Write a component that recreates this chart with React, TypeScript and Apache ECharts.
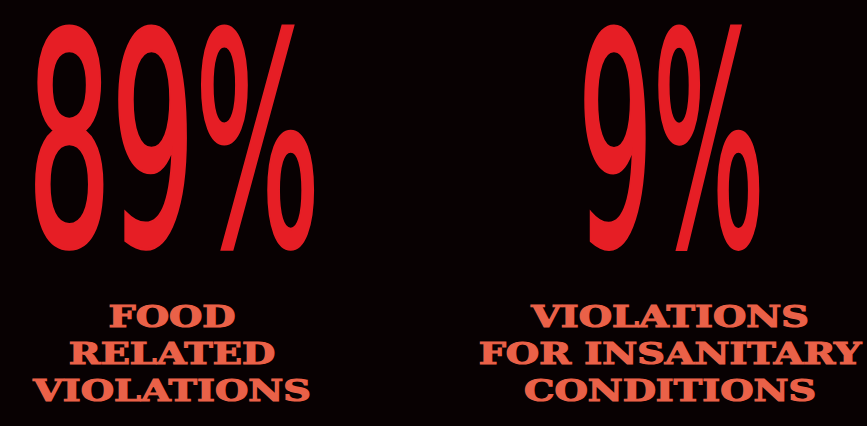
import React, { useEffect, useRef } from "react";
import * as echarts from "echarts";

const values = [89, 9];
const labelLines = [
  ["FOOD", "RELATED", "VIOLATIONS"],
  ["VIOLATIONS", "FOR INSANITARY", "CONDITIONS"],
];

const BG = "#080102";
const RED = "#e61e25";
const LABEL = "#ea6148";
const BIG_SIZE = 300;
const BIG_STROKE = 5;
const BIG_FONT = `normal ${BIG_SIZE}px 'Liberation Sans Narrow', 'DejaVu Sans Condensed', 'DejaVu Sans', sans-serif`;
const LABEL_SIZE = 30;
const LABEL_FONT = `bold ${LABEL_SIZE}px 'DejaVu Serif', serif`;

// ink boxes of the big numbers [left, right, top, bottom]
const bigBoxes = [
  [33, 315, 22, 251],
  [583, 760, 22, 251],
];
const labelCenters = [172, 670];
const labelTops = [305, 342, 379];
const labelCap = 22;
const labelRefWidth = 277;

function measure(text: string, font: string, pad = 0) {
  const ctx = document.createElement("canvas").getContext("2d")!;
  ctx.font = font;
  ctx.textBaseline = "alphabetic";
  ctx.textAlign = "left";
  const m = ctx.measureText(text);
  const central = (m.fontBoundingBoxAscent - m.fontBoundingBoxDescent) / 2;
  return {
    left: m.actualBoundingBoxLeft + pad,
    right: m.actualBoundingBoxRight + pad,
    asc: m.actualBoundingBoxAscent - central + pad,
    desc: m.actualBoundingBoxDescent + central + pad,
  };
}

export default function App() {
  const ref = useRef<HTMLDivElement>(null);
  useEffect(() => {
    document.body.style.margin = "0";
    const chart = echarts.init(ref.current!, null, { renderer: "svg" });
    const elements: any[] = [];

    values.forEach((v, i) => {
      const text = `${v}%`;
      const m = measure(text, BIG_FONT, BIG_STROKE / 2);
      const [L, R, T, B] = bigBoxes[i];
      const sx = (R - L) / (m.left + m.right);
      const sy = (B - T) / (m.asc + m.desc);
      elements.push({
        type: "text",
        x: L + m.left * sx,
        y: T + m.asc * sy,
        scaleX: sx,
        scaleY: sy,
        style: {
          text,
          font: BIG_FONT,
          lineHeight: BIG_SIZE * 0.7,
          fill: RED,
          stroke: RED,
          lineWidth: BIG_STROKE,
          lineJoin: "round",
          align: "left",
          verticalAlign: "middle",
        },
      });
    });

    const ref0 = measure("VIOLATIONS", LABEL_FONT);
    const lsx = labelRefWidth / (ref0.left + ref0.right);
    const cap = measure("H", LABEL_FONT);
    const lsy = labelCap / (cap.asc + cap.desc);

    labelLines.forEach((lines, i) => {
      lines.forEach((line, j) => {
        elements.push({
          type: "text",
          x: labelCenters[i],
          y: labelTops[j] + cap.asc * lsy,
          scaleX: lsx,
          scaleY: lsy,
          style: {
            text: line,
            font: LABEL_FONT,
            fill: LABEL,
            stroke: LABEL,
            lineWidth: 1.2,
            align: "center",
            verticalAlign: "middle",
          },
        });
      });
    });

    chart.setOption({
      animation: false,
      backgroundColor: BG,
      graphic: { elements },
    });
    return () => chart.dispose();
  }, []);
  return (
    <div
      ref={ref}
      style={{ position: "fixed", left: 0, top: 0, width: 867, height: 426, background: BG }}
    />
  );
}
